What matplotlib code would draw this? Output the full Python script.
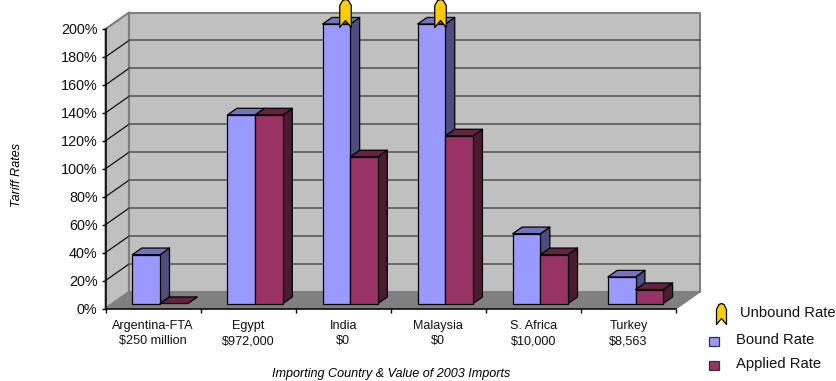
import matplotlib
matplotlib.use('Agg')
import matplotlib.pyplot as plt
from matplotlib.patches import Polygon, Rectangle
from matplotlib.path import Path

plt.rcParams['font.family'] = ['Liberation Sans', 'DejaVu Sans']

categories = ['Argentina-FTA\n$250 million', 'Egypt\n$972,000', 'India\n$0',
              'Malaysia\n$0', 'S. Africa\n$10,000', 'Turkey\n$8,563']
bound_rate = [35, 135, 200, 200, 50, 19]
applied_rate = [0, 135, 105, 120, 35, 10]
unbound_cats = [2, 3]
y_ticks = list(range(0, 201, 20))

BLUE = ('#9999ff', '#7373c0', '#4d4d80')
RED = ('#993366', '#662244', '#4d1a33')

W, H = 836, 381
fig = plt.figure(figsize=(W / 100, H / 100), dpi=100)
ax = fig.add_axes([105.5 / W, 1 - 308.5 / H, 570.5 / W, 279.5 / H])
ax.set_xlim(0, 6)
ax.set_ylim(0, 200)

# depth of the fake 3d box, in data units
DX = 23.5 / (570.5 / 6)
DY = 16.5 / (279.5 / 200)


def pt(x, y, d=0.0):
    return (x + d * DX, y + d * DY)


def face(pts, color, edge=None, lw=1.0, z=1):
    ax.add_patch(Polygon(pts, closed=True, facecolor=color, edgecolor=edge or color,
                         linewidth=lw, clip_on=False, zorder=z, joinstyle='round'))


# walls and floor
face([pt(0, 0), pt(0, 0, 1), pt(0, 200, 1), pt(0, 200)], '#c0c0c0', '#808080', 1.5)
face([pt(0, 0, 1), pt(6, 0, 1), pt(6, 200, 1), pt(0, 200, 1)], '#c0c0c0', '#808080', 1.5)
face([pt(0, 0), pt(6, 0), pt(6, 0, 1), pt(0, 0, 1)], '#808080', '#808080', 1.0)

for v in y_ticks[1:]:
    color = '#808080' if v == 200 else '#111111'
    ax.plot(*zip(pt(0, v), pt(0, v, 1)), color=color, lw=0.9, zorder=1.5, clip_on=False)
    if v < 200:
        ax.plot(*zip(pt(0, v, 1), pt(6, v, 1)), color='#5a5a5a', lw=1.2, zorder=1.5, clip_on=False)
ax.plot(*zip(pt(6, 0), pt(6, 0, 1)), color='#808080', lw=1.0, zorder=1.6, clip_on=False)


def bar3d(x0, x1, v, colors, z):
    d0, d1 = 0.3, 0.7
    front, top, side = colors
    face([pt(x1, 0, d0), pt(x1, 0, d1), pt(x1, v, d1), pt(x1, v, d0)], side, 'black', 0.9, z)
    face([pt(x0, v, d0), pt(x1, v, d0), pt(x1, v, d1), pt(x0, v, d1)], top, 'black', 0.9, z)
    if v > 0:
        face([pt(x0, 0, d0), pt(x1, 0, d0), pt(x1, v, d0), pt(x0, v, d0)], front, 'black', 0.9, z)


BAR_W = 27.7 / (570.5 / 6)
for i, (b, a) in enumerate(zip(bound_rate, applied_rate)):
    mid = i + 0.5
    bar3d(mid - BAR_W, mid, b, BLUE, 3 + i)
    bar3d(mid, mid + BAR_W, a, RED, 3 + i + 0.5)


def pin(tip, notch, top, width):
    # notched flag pointing up, heights in pixels above the anchor
    hw = width / 2
    s = max(top, abs(tip), hw)
    verts = [(-hw, tip), (0, notch), (hw, tip), (hw, top - 6), (hw * 0.5, top - 1),
             (0, top), (-hw * 0.5, top - 1), (-hw, top - 6), (-hw, tip)]
    return Path([(x / s, y / s) for x, y in verts], closed=True), 2 * s * 0.72


marker, ms = pin(2, 9, 30, 11.5)
ax.plot([c + 0.5 + 0.02 for c in unbound_cats], [bound_rate[c] for c in unbound_cats],
        ls='none', marker=marker, ms=ms, mfc='#ffcc00', mec='black', mew=0.9,
        clip_on=False, zorder=20)

# axes
for s in ('top', 'right'):
    ax.spines[s].set_visible(False)
for s in ('left', 'bottom'):
    ax.spines[s].set_linewidth(1.1)
    ax.spines[s].set_zorder(15)
ax.patch.set_alpha(0)
ax.set_yticks(y_ticks)
ax.set_yticklabels([f'{v}%' for v in y_ticks], fontsize=10.4, color='#111111')
ax.set_xticks(range(7))
ax.set_xticklabels([])
ax.set_xticks([i + 0.5 for i in range(6)], minor=True)
ax.set_xticklabels(categories, minor=True, fontsize=9.1, color='#111111', linespacing=1.4)
ax.tick_params(axis='x', which='minor', length=0, pad=8)
ax.tick_params(axis='both', which='major', length=3.2, width=1.0, pad=2.5)

ax.set_xlabel('Importing Country & Value of 2003 Imports', fontsize=9.1, style='italic')
ax.xaxis.set_label_coords(0.5, -0.214)
ax.set_ylabel('Tariff Rates', fontsize=9.1, style='italic', va='center')
ax.yaxis.set_label_coords(-0.156, 0.478)

# legend, laid out by hand in figure pixels
over = fig.add_axes([0, 0, 1, 1], zorder=30)
over.set_xlim(0, W)
over.set_ylim(H, 0)
over.axis('off')
lm, lms = pin(0, 6, 21, 10)
over.plot([721], [324], ls='none', marker=lm, ms=lms, mfc='#ffcc00', mec='black', mew=0.9)
over.add_patch(Rectangle((709, 337), 9.5, 9, fc=BLUE[0], ec='#333333', lw=0.9))
over.add_patch(Rectangle((709, 360.5), 9.5, 9, fc=RED[0], ec='#333333', lw=0.9))
over.text(740, 313, 'Unbound Rate', fontsize=10.6, va='center', color='#111111')
over.text(736, 340, 'Bound Rate', fontsize=10.6, va='center', color='#111111')
over.text(736, 364, 'Applied Rate', fontsize=10.6, va='center', color='#111111')

fig.savefig('out.png', dpi=100)
